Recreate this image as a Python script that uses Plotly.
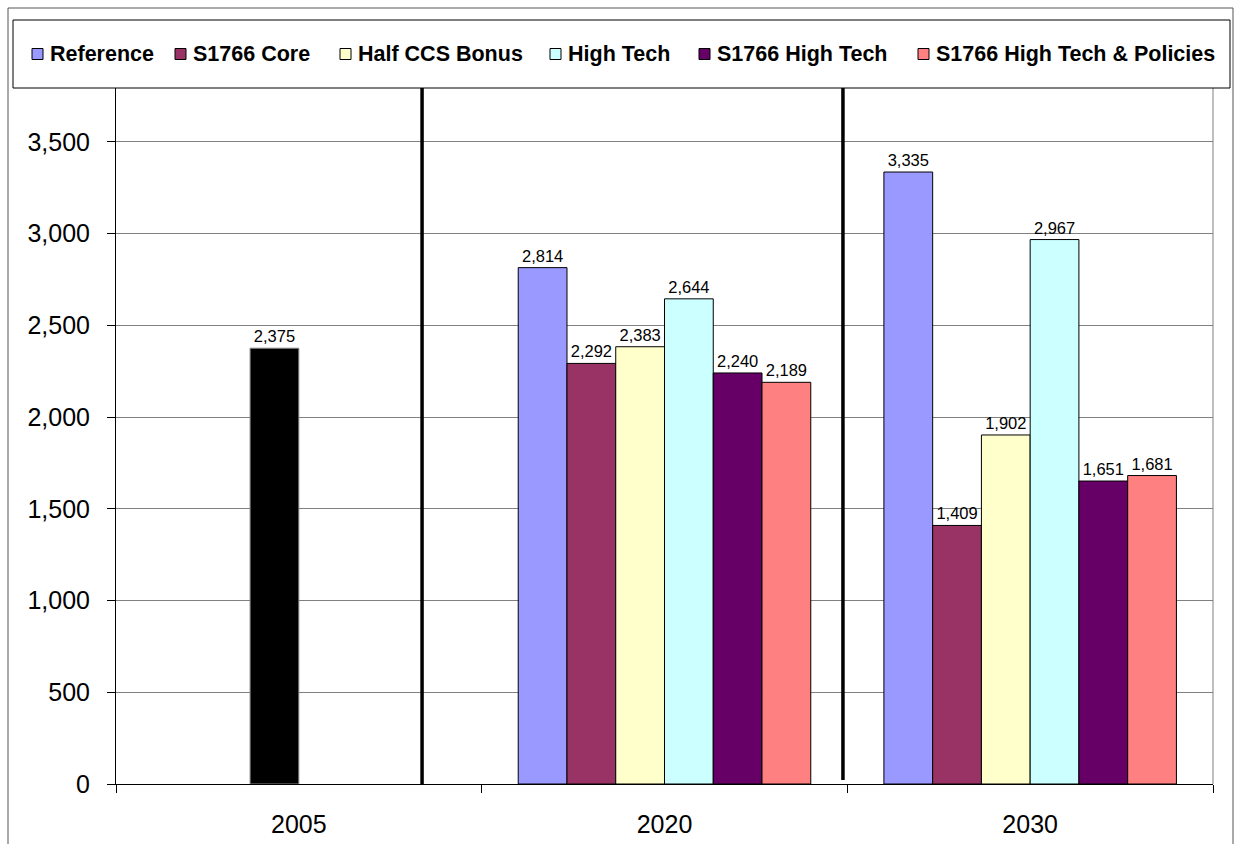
import plotly.graph_objects as go

# ---------------- data ----------------
years = ["2005", "2020", "2030"]
series_names = ["Reference", "S1766 Core", "Half CCS Bonus", "High Tech",
                "S1766 High Tech", "S1766 High Tech & Policies"]
reference = [None, 2814, 3335]
s1766_core = [None, 2292, 1409]
half_ccs_bonus = [None, 2383, 1902]
high_tech = [None, 2644, 2967]
s1766_high_tech = [None, 2240, 1651]
s1766_high_tech_policies = [None, 2189, 1681]
historic_year = ["2005"]
historic_value = [2375]
y_ticks = [0, 500, 1000, 1500, 2000, 2500, 3000, 3500]

series_values = [reference, s1766_core, half_ccs_bonus, high_tech,
                 s1766_high_tech, s1766_high_tech_policies]
colors = ["#9999FF", "#993366", "#FFFFCC", "#CCFFFF", "#660066", "#FF8080"]

# ---------------- layout geometry (pixels) ----------------
W, H = 1239, 844
L, R, T, B = 116, 1213, 50, 784   # plot area edges


def px(xp):
    return (xp - L) / (R - L)


def py(yp):
    return (B - yp) / (B - T)


FONT = "Arial, Liberation Sans, sans-serif"
bar_w = 0.8 / 6

fig = go.Figure()
for i, (name, vals, col) in enumerate(zip(series_names, series_values, colors)):
    fig.add_trace(go.Bar(
        x=years, y=vals, name=name,
        marker=dict(color=col, line=dict(color="black", width=1)),
        width=bar_w, offset=-0.4 + i * bar_w,
        texttemplate="%{y:,}", textposition="outside", constraintext="none",
        textfont=dict(family=FONT, size=16.5, color="black"),
        cliponaxis=False, showlegend=False,
    ))

fig.add_trace(go.Bar(
    x=historic_year, y=historic_value, name="2005",
    marker=dict(color="black", line=dict(color="#888888", width=1)),
    width=bar_w, offset=-bar_w,
    texttemplate="%{y:,}", textposition="outside", constraintext="none",
    textfont=dict(family=FONT, size=16.5, color="black"),
    cliponaxis=False, showlegend=False,
))

shapes = []
# plot area right border
shapes.append(dict(type="line", xref="paper", yref="paper", x0=1, x1=1, y0=0, y1=1,
                   line=dict(color="#808080", width=1), layer="below"))
# thick separators between periods
shapes.append(dict(type="line", xref="x", yref="paper", x0=0.337, x1=0.337,
                   y0=0, y1=1, line=dict(color="black", width=3.5), layer="above"))
shapes.append(dict(type="line", xref="x", yref="paper", x0=1.488, x1=1.488,
                   y0=py(780), y1=1, line=dict(color="black", width=3.5), layer="above"))
# outer chart border
shapes.append(dict(type="rect", xref="paper", yref="paper",
                   x0=px(8), x1=px(1233), y0=py(860), y1=py(8),
                   line=dict(color="#555555", width=1), fillcolor="rgba(0,0,0,0)",
                   layer="above"))
# legend box
shapes.append(dict(type="rect", xref="paper", yref="paper",
                   x0=px(13), x1=px(1230), y0=py(88), y1=py(20),
                   line=dict(color="black", width=1), fillcolor="white", layer="above"))

annotations = []
swatch_left = [32, 175, 340, 550, 699, 918]
leg_y = 54
for name, col, sx in zip(series_names, colors, swatch_left):
    shapes.append(dict(type="rect", xref="paper", yref="paper",
                       x0=px(sx), x1=px(sx + 11), y0=py(leg_y + 5.5), y1=py(leg_y - 5.5),
                       line=dict(color="black", width=1), fillcolor=col, layer="above"))
    annotations.append(dict(xref="paper", yref="paper", x=px(sx + 16), y=py(leg_y),
                            xanchor="left", yanchor="middle", showarrow=False,
                            text="<b>" + name.replace("&", "&amp;") + "</b>",
                            font=dict(family=FONT, size=21.5, color="black")))

fig.update_layout(
    width=W, height=H,
    margin=dict(l=L, r=W - R, t=T, b=H - B, pad=0, autoexpand=False),
    paper_bgcolor="white", plot_bgcolor="white",
    barmode="overlay",
    showlegend=False,
    shapes=shapes, annotations=annotations,
    font=dict(family=FONT, color="black"),
)
fig.update_xaxes(
    type="category", categoryorder="array", categoryarray=years,
    range=[-0.5, 2.5], showgrid=False, automargin=False,
    showline=True, linecolor="black", linewidth=1,
    ticks="outside", tickson="boundaries", ticklen=8, tickcolor="black",
    tickfont=dict(family=FONT, size=25, color="black"),
    ticklabelstandoff=18,
)
fig.update_yaxes(
    range=[0, 4000], tickvals=y_ticks, tickformat=",", automargin=False,
    showgrid=True, gridcolor="#808080", gridwidth=1, zeroline=False,
    showline=True, linecolor="black", linewidth=1,
    ticks="outside", ticklen=8, tickcolor="black",
    tickfont=dict(family=FONT, size=25, color="black"),
    ticklabelstandoff=12,
)

fig.write_html("out.html", config={"displayModeBar": False},
               post_script="document.body.style.margin='0';")
